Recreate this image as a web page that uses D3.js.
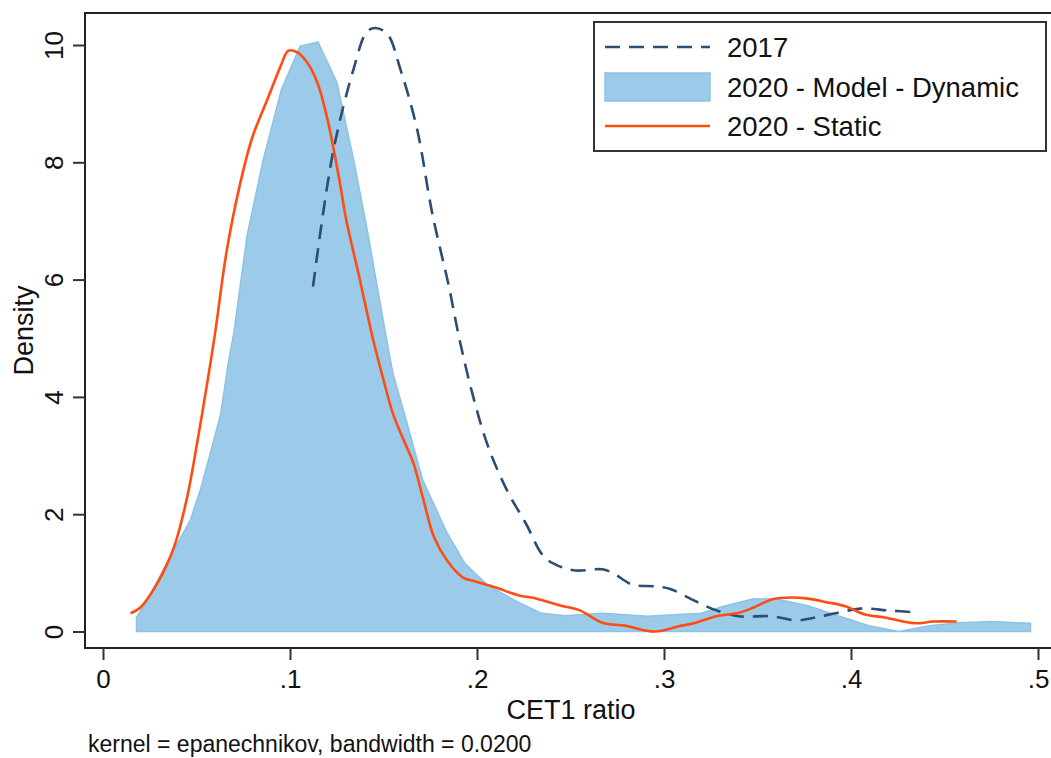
<!DOCTYPE html>
<html>
<head>
<meta charset="utf-8">
<script src="https://cdn.jsdelivr.net/npm/d3@7"></script>
<style>
	body { margin: 0; background: #fff; }
	text { font-family: "Liberation Sans", Arial, sans-serif; fill: #111; }
</style>
</head>
<body>
<svg id="chart" width="1051" height="758"></svg>
<script>
// kernel density estimates: [CET1 ratio, density]
var dens2017 = [
	[0.1123,5.88],[0.123,8.17],[0.134,9.59],[0.141,10.22],[0.1455,10.29],[0.152,10.19],
	[0.159,9.59],[0.168,8.56],[0.176,7.14],[0.185,5.88],[0.1905,5.0],[0.198,4.0],
	[0.206,3.15],[0.216,2.41],[0.226,1.85],[0.236,1.27],[0.245,1.10],[0.253,1.04],
	[0.267,1.06],[0.273,0.99],[0.283,0.80],[0.295,0.77],[0.303,0.73],[0.316,0.53],
	[0.328,0.36],[0.340,0.26],[0.357,0.26],[0.371,0.19],[0.381,0.24],[0.393,0.32],
	[0.405,0.39],[0.420,0.36],[0.436,0.32]
];
var densDynamic = [
	[0.0179,0.24],[0.0237,0.53],[0.034,1.16],[0.0467,1.9],[0.052,2.41],[0.0574,3.04],
	[0.063,3.72],[0.067,4.58],[0.070,5.1],[0.077,6.74],[0.0857,8.05],[0.0955,9.25],
	[0.1054,9.98],[0.115,10.05],[0.125,9.37],[0.134,8.05],[0.141,6.9],[0.151,5.1],
	[0.155,4.41],[0.1625,3.56],[0.171,2.58],[0.184,1.68],[0.1935,1.16],[0.206,0.78],
	[0.222,0.5],[0.2345,0.31],[0.247,0.27],[0.267,0.31],[0.291,0.26],[0.3077,0.29],
	[0.320,0.31],[0.332,0.43],[0.348,0.56],[0.3605,0.55],[0.377,0.44],[0.393,0.27],
	[0.4096,0.10],[0.4256,0.0],[0.442,0.10],[0.458,0.15],[0.475,0.17],[0.489,0.15],
	[0.496,0.14]
];
var densStatic = [
	[0.0147,0.31],[0.020,0.41],[0.029,0.82],[0.038,1.44],[0.045,2.29],[0.050,3.15],
	[0.056,4.29],[0.060,5.1],[0.066,6.46],[0.073,7.59],[0.080,8.44],[0.088,9.08],
	[0.095,9.64],[0.099,9.9],[0.1036,9.88],[0.109,9.71],[0.1145,9.37],[0.120,8.74],
	[0.127,7.59],[0.130,7.03],[0.137,6.05],[0.1445,4.97],[0.150,4.29],[0.155,3.72],
	[0.160,3.32],[0.166,2.87],[0.171,2.29],[0.177,1.61],[0.184,1.21],[0.1925,0.92],
	[0.1997,0.85],[0.210,0.75],[0.222,0.62],[0.232,0.56],[0.245,0.44],[0.255,0.36],
	[0.267,0.15],[0.279,0.10],[0.295,0.0],[0.308,0.09],[0.316,0.14],[0.328,0.26],
	[0.340,0.32],[0.348,0.41],[0.358,0.55],[0.3685,0.58],[0.377,0.56],[0.387,0.50],
	[0.397,0.43],[0.4075,0.29],[0.418,0.24],[0.434,0.14],[0.444,0.17],[0.4565,0.17]
];
var xTicks = [0, 0.1, 0.2, 0.3, 0.4, 0.5];
var xTickLabels = ["0", ".1", ".2", ".3", ".4", ".5"];
var yTicks = [0, 2, 4, 6, 8, 10];
var legendLabels = ["2017", "2020 - Model - Dynamic", "2020 - Static"];

var col2017 = "#2b4e72",
	colFill = "#9ccbea",
	colFillEdge = "#8cc2e6",
	colStatic = "#ff4d12";

var svg = d3.select("#chart");

// plot region box (right side runs off the picture)
var frame = {left: 85, top: 13, right: 1062, bottom: 648};

var x = d3.scaleLinear().domain([0, 0.5]).range([103, 1038]);
var y = d3.scaleLinear().domain([0, 10]).range([631.5, 45]);

var xacc = function(d){ return x(d[0]); },
	yacc = function(d){ return y(d[1]); };

// ------ curves
var area = d3.area().x(xacc).y0(y(0)).y1(yacc);
var line = d3.line().x(xacc).y(yacc).curve(d3.curveCatmullRom.alpha(0.5));

svg.append("path")
	.attr("d", area(densDynamic))
	.attr("fill", colFill)
	.attr("stroke", colFillEdge)
	.attr("stroke-width", 1.5)
	.attr("stroke-linejoin", "round");

svg.append("path")
	.attr("d", line(dens2017))
	.attr("fill", "none")
	.attr("stroke", col2017)
	.attr("stroke-width", 2.6)
	.attr("stroke-dasharray", "15,9");

svg.append("path")
	.attr("d", line(densStatic))
	.attr("fill", "none")
	.attr("stroke", colStatic)
	.attr("stroke-width", 2.6);

// ------ frame + axes
svg.append("rect")
	.attr("x", frame.left).attr("y", frame.top)
	.attr("width", frame.right-frame.left).attr("height", frame.bottom-frame.top)
	.attr("fill", "none")
	.attr("stroke", "#222")
	.attr("stroke-width", 2);

var xAxis = d3.axisBottom(x)
	.tickValues(xTicks)
	.tickFormat(function(d, i){ return xTickLabels[i]; })
	.tickSize(12)
	.tickPadding(10);
var gx = svg.append("g")
	.attr("transform", "translate(0," + frame.bottom + ")")
	.call(xAxis);
gx.select(".domain").remove();
gx.selectAll("line").attr("stroke", "#333").attr("stroke-width", 2);
gx.selectAll("text")
	.attr("font-size", 26)
	.attr("font-family", "Liberation Sans, Arial, sans-serif")
	.attr("fill", "#111");

var yAxis = d3.axisLeft(y)
	.tickValues(yTicks)
	.tickSize(12)
	.tickPadding(0);
var gy = svg.append("g")
	.attr("transform", "translate(" + frame.left + ",0)")
	.call(yAxis);
gy.select(".domain").remove();
gy.selectAll("line").attr("stroke", "#333").attr("stroke-width", 2);
gy.selectAll("text")
	.attr("x", null).attr("dy", null)
	.attr("text-anchor", "middle")
	.attr("font-size", 26)
	.attr("font-family", "Liberation Sans, Arial, sans-serif")
	.attr("fill", "#111")
	.attr("transform", "translate(-22,0) rotate(-90)");

// axis titles
svg.append("text")
	.attr("x", 571).attr("y", 719)
	.attr("text-anchor", "middle")
	.attr("font-size", 27)
	.text("CET1 ratio");

svg.append("text")
	.attr("transform", "translate(33," + ((frame.top+frame.bottom)/2) + ") rotate(-90)")
	.attr("text-anchor", "middle")
	.attr("font-size", 27)
	.text("Density");

svg.append("text")
	.attr("x", 88).attr("y", 752)
	.attr("font-size", 23)
	.text("kernel = epanechnikov, bandwidth = 0.0200");

// ------ legend
var lg = svg.append("g").attr("class", "legend");
lg.append("rect")
	.attr("x", 594).attr("y", 22)
	.attr("width", 452).attr("height", 129)
	.attr("fill", "#fff")
	.attr("stroke", "#333")
	.attr("stroke-width", 2);

var rowY = [47, 87, 126];
lg.append("line")
	.attr("x1", 605).attr("x2", 710)
	.attr("y1", rowY[0]).attr("y2", rowY[0])
	.attr("stroke", col2017).attr("stroke-width", 2.6)
	.attr("stroke-dasharray", "15,9");
lg.append("rect")
	.attr("x", 605).attr("y", rowY[1]-14)
	.attr("width", 105).attr("height", 28)
	.attr("fill", colFill)
	.attr("stroke", colFillEdge).attr("stroke-width", 1.5);
lg.append("line")
	.attr("x1", 605).attr("x2", 710)
	.attr("y1", rowY[2]).attr("y2", rowY[2])
	.attr("stroke", colStatic).attr("stroke-width", 2.6);

lg.selectAll("text.lab")
	.data(legendLabels)
	.enter().append("text")
	.attr("class", "lab")
	.attr("x", 727)
	.attr("y", function(d, i){ return rowY[i] + 10; })
	.attr("font-size", 27.5)
	.text(function(d){ return d; });
</script>
</body>
</html>
